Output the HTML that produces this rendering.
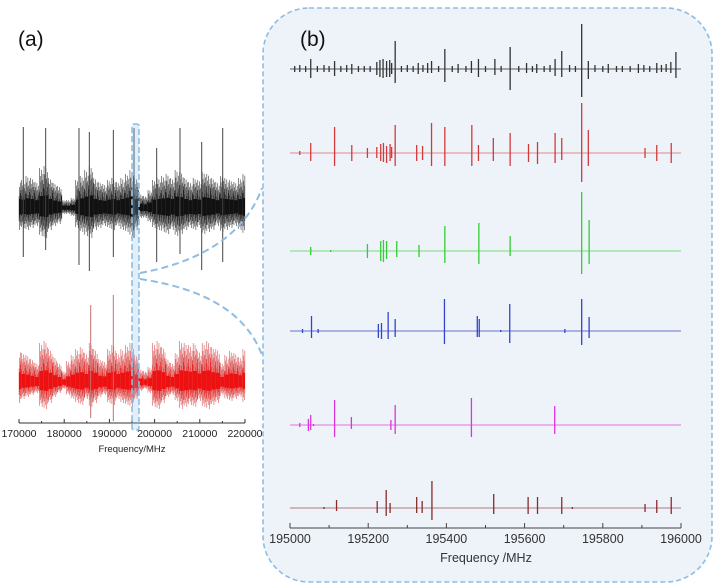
<!DOCTYPE html>
<html><head><meta charset="utf-8">
<style>
html,body{margin:0;padding:0;background:#fff;}
svg{display:block;font-family:"Liberation Sans",sans-serif;}
</style></head>
<body>
<svg id="fig" width="717" height="586" viewBox="0 0 717 586" xmlns="http://www.w3.org/2000/svg">
  <rect x="263" y="8" width="449" height="574" rx="46" ry="46" fill="#eef3fa" stroke="#8fbce4" stroke-width="1.6" stroke-dasharray="5,3"/>
  <text x="18" y="46" font-size="21" fill="#111">(a)</text>
  <text x="300" y="46" font-size="21" fill="#111">(b)</text>
  <g id="pa"></g>
  <g id="pb"></g>
  <path d="M140,273 C200,262 245,235 262,188" fill="none" stroke="#8fbce4" stroke-width="2" stroke-dasharray="7,4"/>
  <path d="M140,279 C200,288 245,310 262,355" fill="none" stroke="#8fbce4" stroke-width="2" stroke-dasharray="7,4"/>
  <rect x="132" y="124" width="7" height="306" rx="2" fill="rgba(143,188,228,0.25)" stroke="#8fbce4" stroke-width="1.6" stroke-dasharray="6,3"/>
</svg>
<script>
// ---------- Panel (a) data ----------
const aBins = []; for (let i = 0; i <= 50; i++) aBins.push(170000 + i * 1000);
const aBlackUp   = [30,28,32,30,26,40,42,30,25,22,8,8,10,28,32,38,42,30,26,24,28,30,26,30,34,38,30,14,12,18,28,30,32,34,30,38,36,30,26,30,28,36,34,30,26,32,30,28,26,30,34];
const aBlackDown = [22,20,22,20,18,28,30,22,18,16,6,6,8,20,24,28,30,22,20,18,20,22,18,22,24,28,22,10,10,14,20,22,24,26,22,28,26,22,20,22,20,26,24,22,18,24,22,20,18,22,26];
const aRedUp     = [36,30,28,24,20,40,42,34,26,20,12,22,28,34,36,30,40,34,24,22,34,38,30,34,38,40,28,14,12,16,40,42,36,24,20,30,42,40,38,40,32,40,42,36,34,20,28,32,30,26,34];
const aRedDown   = [20,16,14,12,10,24,26,20,14,10,6,12,16,20,22,16,24,20,14,12,20,22,16,20,22,24,16,8,6,10,24,26,20,14,12,18,26,24,22,24,18,24,26,22,20,12,16,18,16,14,20];
const aBlackSpikeF    = [170950,175900,183270,185560,190870,195440,200460,205620,210420,215070];
const aBlackSpikeUp   = [81,80,80,76,78,80,60,80,66,80];
const aBlackSpikeDown = [49,42,57,63,49,30,54,46,62,54];
const aRedSpikeF    = [185860,190870];
const aRedSpikeUp   = [78,88];
const aRedSpikeDown = [35,38];
const aTicks = [170000,180000,190000,200000,210000,220000];

// ---------- Panel (b) data ----------
const bTicks = [195000,195200,195400,195600,195800,196000];
const blackF    = [195012,195025,195040,195053,195070,195087,195100,195114,195130,195145,195158,195175,195190,195205,195222,195230,195238,195247,195255,195260,195269,195285,195300,195315,195328,195340,195352,195362,195380,195396,195415,195430,195450,195464,195482,195500,195524,195540,195563,195585,195605,195620,195631,195650,195665,195678,195695,195715,195730,195746,195763,195780,195800,195814,195835,195850,195870,195891,195905,195920,195938,195950,195962,195974,195987];
const blackUp   = [3,4,3,10,3,4,3,8,3,4,5,3,3,3,7,9,10,8,9,6,28,3,4,3,6,4,6,8,3,20,3,5,3,8,10,3,10,3,22,3,6,3,5,3,4,10,18,4,3,45,8,4,3,5,3,3,3,5,4,3,6,4,5,7,17];
const blackDown = [3,3,3,9,3,3,3,7,3,3,5,3,3,3,6,8,9,8,8,5,14,3,3,3,5,3,4,4,3,13,3,4,3,4,8,3,6,3,21,3,4,3,4,3,3,7,8,3,3,28,10,3,3,4,3,3,3,4,3,3,4,3,3,4,9];
const redF    = [195025,195053,195114,195158,195198,195222,195232,195239,195247,195256,195260,195269,195324,195339,195362,195396,195465,195482,195520,195563,195610,195633,195678,195695,195746,195763,195908,195938,195975];
const redUp   = [2,10,26,8,5,6,9,10,7,9,6,28,8,7,30,26,28,8,15,20,9,11,20,15,50,23,5,8,10];
const redDown = [2,8,13,8,5,5,8,9,10,8,5,13,8,7,13,13,13,8,8,13,9,11,10,7,29,13,5,8,10];
const greenF    = [195053,195104,195198,195232,195239,195247,195273,195330,195396,195483,195563,195746,195765];
const greenUp   = [4,1,7,10,11,10,10,6,25,28,15,59,31];
const greenDown = [4,1,7,10,11,8,6,6,12,13,5,23,13];
const blueF    = [195032,195055,195072,195226,195234,195251,195269,195395,195479,195484,195539,195562,195703,195746,195765];
const blueUp   = [2,15,2,7,8,19,12,32,15,12,1,27,2,32,14];
const blueDown = [2,7,2,7,8,8,6,13,6,6,1,12,2,14,7];
const magF    = [195025,195047,195053,195060,195114,195157,195258,195269,195464,195677];
const magUp   = [2,6,10,1,25,8,5,20,27,19];
const magDown = [2,6,5,1,12,4,5,9,12,9];
const brownF    = [195087,195119,195223,195246,195256,195324,195338,195363,195521,195609,195633,195695,195722,195908,195938,195975];
const brownUp   = [1,8,7,18,5,11,7,27,14,11,11,11,1,4,8,11];
const brownDown = [1,3,5,8,5,5,5,12,6,6,6,6,1,4,5,6];

const NS = 'http://www.w3.org/2000/svg';
function mk(parent, tag, attrs) {
  const e = document.createElementNS(NS, tag);
  for (const k in attrs) e.setAttribute(k, attrs[k]);
  parent.appendChild(e);
  return e;
}

// ---- Panel (a) ----
const pa = document.getElementById('pa');
const ax = f => 19 + (f - 170000) * 226 / 50000;
// rendering texture (line-length fractions within each bin, style only)
const texture = [1.0,0.45,0.8,0.3,0.65,0.95,0.4,0.7,0.25,0.85,0.5,0.6];
function envelope(name, base, up, down, color, lite) {
  const n = texture.length;
  for (let i = 0; i < aBins.length; i++) {
    for (let k = 0; k < n; k++) {
      const f = aBins[i] - 500 + (k + 0.5) * 1000 / n;
      if (f < 170000 || f > 220000) continue;
      const t = texture[k], t2 = texture[(k + 5) % n];
      const l = mk(pa, 'line', {x1: ax(f), x2: ax(f), y1: base - up[i] * t, y2: base + down[i] * t2, stroke: t > 0.6 ? lite : color, 'stroke-width': 0.7});
      
      
    }
    const x0 = ax(Math.max(170000, aBins[i] - 500)), x1 = ax(Math.min(220000, aBins[i] + 500));
    const c = mk(pa, 'rect', {x: x0, y: base - up[i] * 0.3, width: x1 - x0, height: (up[i] + down[i]) * 0.3, fill: color});
    
    
  }
}
function spikes(name, base, F, U, D, color) {
  for (let i = 0; i < F.length; i++) {
    const l = mk(pa, 'line', {x1: ax(F[i]), x2: ax(F[i]), y1: base - U[i], y2: base + D[i], stroke: color, 'stroke-width': 1});
    
    
  }
}
envelope('black-spectrum-a', 208, aBlackUp, aBlackDown, '#111', '#555');
spikes('black-spike-a', 208, aBlackSpikeF, aBlackSpikeUp, aBlackSpikeDown, '#444');
envelope('red-spectrum-a', 383, aRedUp, aRedDown, '#ee1111', '#e06a6a');
spikes('red-spike-a', 383, aRedSpikeF, aRedSpikeUp, aRedSpikeDown, '#c87070');
const axA = mk(pa, 'line', {x1: 19, x2: 245, y1: 423, y2: 423, stroke: '#333', 'stroke-width': 1});


for (let i = 0; i < aTicks.length; i++) {
  const t = mk(pa, 'line', {x1: ax(aTicks[i]), x2: ax(aTicks[i]), y1: 423, y2: 419, stroke: '#333'});
  
  
  const tx = mk(pa, 'text', {x: ax(aTicks[i]), y: 437, 'font-size': 10.5, 'text-anchor': 'middle', fill: '#222'});
  tx.textContent = aTicks[i];
  
  
  if (i < aTicks.length - 1) {
    const m = mk(pa, 'line', {x1: ax(aTicks[i] + 5000), x2: ax(aTicks[i] + 5000), y1: 423, y2: 421, stroke: '#333'});
    
    
  }
}
const ta = mk(pa, 'text', {x: 132, y: 452, 'font-size': 9.5, 'text-anchor': 'middle', fill: '#222'});
ta.textContent = 'Frequency/MHz';



// ---- Panel (b) ----
const pb = document.getElementById('pb');
const bx = f => 290 + (f - 195000) * 391 / 1000;
function series(name, base, F, U, D, color, lineColor) {
  const b = mk(pb, 'line', {x1: 290, x2: 681, y1: base, y2: base, stroke: lineColor, 'stroke-width': 1});
  
  
  for (let i = 0; i < F.length; i++) {
    const l = mk(pb, 'line', {x1: bx(F[i]), x2: bx(F[i]), y1: base - U[i], y2: base + D[i], stroke: color, 'stroke-width': 1.3});
    
    
  }
}
series('black-series', 69, blackF, blackUp, blackDown, '#333', '#555');
series('red-series', 153, redF, redUp, redDown, '#d23a3a', '#e08888');
series('green-series', 251, greenF, greenUp, greenDown, '#33cc33', '#77dd77');
series('blue-series', 331, blueF, blueUp, blueDown, '#3344cc', '#6670cc');
series('magenta-series', 425, magF, magUp, magDown, '#dd33dd', '#e070e0');
series('brown-series', 508, brownF, brownUp, brownDown, '#8b2a2a', '#b07a7a');
const axB = mk(pb, 'line', {x1: 290, x2: 681, y1: 528, y2: 528, stroke: '#444', 'stroke-width': 1});


for (let i = 0; i < bTicks.length; i++) {
  const t = mk(pb, 'line', {x1: bx(bTicks[i]), x2: bx(bTicks[i]), y1: 528, y2: 523, stroke: '#444'});
  
  
  const tx = mk(pb, 'text', {x: bx(bTicks[i]), y: 543, 'font-size': 12.5, 'text-anchor': 'middle', fill: '#333'});
  tx.textContent = bTicks[i];
  
  
  if (i < bTicks.length - 1) {
    const m = mk(pb, 'line', {x1: bx(bTicks[i] + 100), x2: bx(bTicks[i] + 100), y1: 528, y2: 525, stroke: '#444'});
    
    
  }
}
const tb = mk(pb, 'text', {x: 486, y: 562, 'font-size': 12.5, 'text-anchor': 'middle', fill: '#333'});
tb.textContent = 'Frequency /MHz';


</script>
</body></html>
